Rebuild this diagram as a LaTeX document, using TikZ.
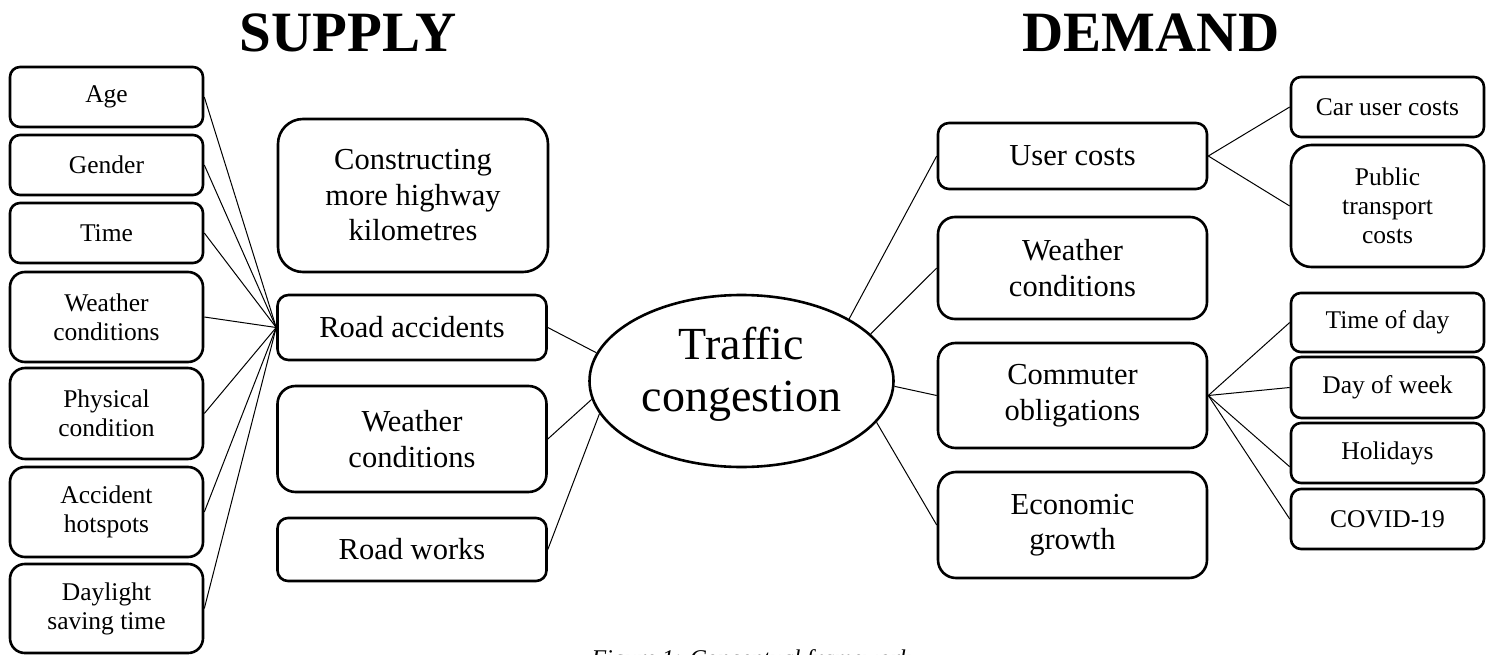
\documentclass[tikz,border=0pt]{standalone}
\usepackage{fontspec}
\setmainfont{Liberation Serif}
\usepackage{tikz}
\usetikzlibrary{shapes.geometric,calc}

\newcommand\fsleaf{\fontsize{25.5}{29}\selectfont}
\newcommand\fsmid{\fontsize{30.5}{35.5}\selectfont}
\newcommand\fscore{\fontsize{46}{52}\selectfont}
\newcommand\fstitle{\fontsize{57}{60}\selectfont\bfseries}
\newcommand\fscap{\fontsize{24}{28}\selectfont\itshape}

\begin{document}
\begin{tikzpicture}[x=1pt,y=-1pt,
  frame/.style={draw,line width=2.6pt,inner sep=0pt,align=center},
  leafbox/.style={frame,minimum width=193pt,font=\fsleaf},
  hubbox/.style={frame,minimum width=269pt,font=\fsmid},
  link/.style={line width=1pt}]
\useasboundingbox (0,0) rectangle (1491,655);

% 見出し
\node[font=\fstitle,anchor=base] (supply) at (348,52) {SUPPLY};
\node[font=\fstitle,anchor=base] (demand) at (1151,52) {DEMAND};

% 左の列 (供給側の要因)
\foreach \n/\y/\h/\t in {age/97/60/Age, gender/165/60/Gender, time/233/60/Time,
    weatherL/317/90/Weather\\conditions, physical/413.5/91/Physical\\condition,
    hotspots/512/90/Accident\\hotspots, daylight/608.5/89/Daylight\\saving time} {
    \pgfmathsetmacro{\rc}{\h/6}
    \node[leafbox,minimum height=\h pt,rounded corners=\rc pt] (\n) at (106.5,\y) {\t};
}

% 供給側
\node[hubbox,minimum width=270pt,minimum height=153pt,rounded corners=25pt] (highway) at (413,195.5) {Constructing\\more highway\\kilometres};
\node[hubbox,minimum height=65pt,rounded corners=11pt] (accidents) at (412,327.5) {Road accidents};
\node[hubbox,minimum height=106pt,rounded corners=18pt] (weatherS) at (412,439) {Weather\\conditions};
\node[hubbox,minimum height=63pt,rounded corners=10.5pt] (roadworks) at (412,549.5) {Road works};

% 中心
\node[draw,ellipse,line width=2.6pt,inner sep=0pt,minimum width=304pt,minimum height=172pt,
  align=center,font=\fscore,text depth=24pt] (congestion) at (741.5,381) {Traffic\\congestion};

% 需要側
\node[hubbox,minimum height=66pt,rounded corners=11pt] (usercosts) at (1072.5,156) {User costs};
\node[hubbox,minimum height=102pt,rounded corners=17pt] (weatherD) at (1072.5,268) {Weather\\conditions};
\node[hubbox,minimum height=105pt,rounded corners=17.5pt] (commuter) at (1072.5,395.5) {Commuter\\obligations};
\node[hubbox,minimum height=106pt,rounded corners=18pt] (growth) at (1072.5,525) {Economic\\growth};

% 右の列
\foreach \n/\y/\h/\t in {carcost/107/60/Car user costs, ptcost/206/122/Public\\transport\\costs,
    timeofday/322.5/59/Time of day, dayofweek/387.5/61/Day of week,
    holidays/453/60/Holidays, covid/519/60/COVID-19} {
    \pgfmathsetmacro{\rc}{min(\h,193)/6}
    \node[leafbox,minimum height=\h pt,rounded corners=\rc pt] (\n) at (1387.5,\y) {\t};
}

% 線
\foreach \n in {age,gender,time,weatherL,physical,hotspots,daylight}
    \draw[link] (\n.east) -- (accidents.west);

\draw[link] (accidents.east) -- (congestion.169);
\draw[link] (weatherS.east) -- (congestion.187);
\draw[link] (roadworks.east) -- (congestion.193);

\draw[link] (congestion.30) -- (usercosts.west);
\draw[link] (congestion.20) -- (weatherD.west);
\draw[link] (congestion.358) -- (commuter.west);
\draw[link] (congestion.343) -- (growth.west);

\draw[link] (usercosts.east) -- (carcost.west);
\draw[link] (usercosts.east) -- (ptcost.west);
\foreach \n in {timeofday.west,dayofweek.west,holidays.188,covid.west}
    \draw[link] (commuter.east) -- (\n);

% キャプション (下端で切れている)
\node[font=\fscap,anchor=base west] (caption) at (588,666) {Figure 1: Conceptual framework};

\end{tikzpicture}
\end{document}
